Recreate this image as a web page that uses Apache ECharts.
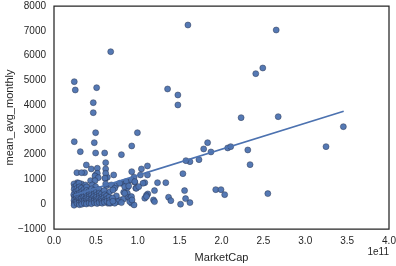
<!DOCTYPE html>
<html>
<head>
<meta charset="utf-8">
<script src="https://cdn.jsdelivr.net/npm/echarts@6/dist/echarts.min.js"></script>
<style>html,body{margin:0;padding:0;background:#fff;}#c{width:396px;height:266px;}</style>
</head>
<body>
<div id="c"></div>
<script>
// MarketCap in units of 1e11
const marketCap = [
0.677,0.242,0.254,0.509,0.469,0.469,0.242,0.497,0.996,0.481,0.314,0.497,0.605,0.928,0.805,0.617,0.386,0.445,0.273,0.365,0.617,0.497,0.713,0.928,1.044,1.116,1.032,
1.599,2.653,1.356,1.479,1.479,2.409,2.493,2.234,2.677,3.455,3.248,2.314,2.341,2.553,1.931,1.994,2.038,1.787,1.834,1.874,2.074,2.110,1.731,1.623,1.575,1.623,
1.539,1.084,1.236,1.335,1.120,1.104,1.200,1.188,1.200,1.368,1.395,1.511,1.559,1.571,
0.844,0.884,0.964,1.063,0.956,0.737,0.805,0.625,0.876,0.976,0.876,0.752,0.793,0.832,0.673,0.925,0.956,0.884,0.904,0.832,
1.116,0.617,0.637,0.865,0.925,0.964,0.784,0.685,0.725,0.844,0.892,0.984,1.012,0.625,0.665,0.704,0.844,0.745,0.925,0.904,0.932,0.764,0.725,0.805,1.084,1.104,0.625,0.644,
0.329,0.517,0.517,0.617,0.489,0.529,0.608,0.437,0.489,0.278,0.329,0.377,0.457,0.497,0.617,
0.238,0.246,0.241,0.249,0.236,0.244,0.251,0.239,0.247,0.243,0.240,
0.268,0.274,0.271,0.277,0.266,0.273,0.279,0.270,0.275,
0.298,0.303,0.296,0.305,0.300,0.294,0.302,0.307,0.299,0.304,
0.328,0.333,0.331,0.336,0.326,0.334,0.329,0.332,
0.358,0.364,0.361,0.356,0.366,0.360,0.363,
0.389,0.392,0.386,0.395,0.388,0.391,0.394,0.387,
0.418,0.423,0.421,0.416,0.425,0.419,
0.448,0.452,0.446,0.455,0.449,0.451,0.447,
0.478,0.483,0.476,0.485,0.480,0.482,
0.508,0.513,0.506,0.511,0.509,0.515,
0.538,0.543,0.541,0.536,0.545,0.540,
0.568,0.573,0.566,0.571,0.575,
0.598,0.603,0.596,0.605,0.601,
0.628,0.633,0.631,
0.658,0.663,0.661,
0.698,0.703
];
const meanAvgMonthly = [
6156,4946,4611,4704,4099,3695,2525,2888,2888,2485,2122,2069,2069,2352,2001,1678,1585,1424,1275,1275,1424,1182,1182,1315,1424,1545,1182,
7233,7031,4651,4409,4006,5269,5498,3494,3534,3130,2324,2190,1598,428,589,589,387,2231,2485,2110,2271,2324,1799,1718,1759,65,
1234,871,871,871,416,363,549,173,105,282,145,0,549,226,
887,927,887,847,1089,750,847,750,670,645,444,105,173,214,40,40,-28,282,242,484,
1182,1049,1089,912,980,912,847,779,645,710,738,645,710,444,508,577,444,335,307,105,173,105,40,65,242,307,105,40,
1275,1452,1250,1250,1142,1073,1049,952,952,871,819,779,779,710,819,
820,700,600,480,380,300,220,150,80,20,-40,
760,640,520,420,330,250,170,100,30,
850,700,580,450,350,260,190,120,50,-20,
650,520,400,300,220,140,60,0,
600,480,380,280,200,120,40,
700,560,420,320,230,150,70,10,
520,400,300,210,130,50,
620,470,350,260,180,100,20,
560,420,310,220,140,60,
500,380,280,190,110,30,
600,450,330,230,150,70,
420,300,200,120,40,
550,380,260,160,80,
330,220,120,
280,150,60,
250,120
];
// regression line endpoints
const fitX = [0.24, 3.459];
const fitY = [369, 3752];
const xTicks = [0, 0.5, 1.0, 1.5, 2.0, 2.5, 3.0, 3.5, 4.0];

const points = marketCap.map((x, i) => [x, meanAvgMonthly[i]]);
const fitLine = fitX.map((x, i) => [x, fitY[i]]);

const chart = echarts.init(document.getElementById('c'), null, {renderer: 'canvas'});
const txt = '#262626';
const font = 'Liberation Sans, Arial, sans-serif';
chart.setOption({
  animation: false,
  backgroundColor: '#fff',
  grid: {left: 54, top: 6, width: 335, height: 223, show: true, borderColor: txt, borderWidth: 1.25,
         backgroundColor: 'transparent', containLabel: false, outerBoundsMode: 'none'},
  xAxis: {
    type: 'value', min: xTicks[0], max: xTicks[xTicks.length - 1], interval: 0.5,
    axisLine: {show: false}, axisTick: {show: false}, splitLine: {show: false},
    axisLabel: {color: txt, fontSize: 10, fontFamily: font, margin: 7, formatter: v => v.toFixed(1)},
    name: 'MarketCap', nameLocation: 'middle', nameGap: 23, nameMoveOverlap: false,
    nameTextStyle: {color: txt, fontSize: 11, fontFamily: font}
  },
  yAxis: {
    type: 'value', min: -1000, max: 8000, interval: 1000,
    axisLine: {show: false}, axisTick: {show: false}, splitLine: {show: false},
    axisLabel: {color: txt, fontSize: 10, fontFamily: font, margin: 8, formatter: v => String(v).replace('-', '\u2212')},
    name: 'mean_avg_monthly', nameLocation: 'middle', nameGap: 39, nameMoveOverlap: false,
    nameTextStyle: {color: txt, fontSize: 11, fontFamily: font}
  },
  graphic: [{
    type: 'text', right: 7, top: 247,
    style: {text: '1e11', fill: txt, font: '10px ' + font}
  }],
  series: [{
    type: 'scatter', data: points, symbolSize: 6, z: 2,
    itemStyle: {color: '#4C72B0', opacity: 0.95, borderColor: '#27324d', borderWidth: 0.5}
  }, {
    type: 'line', data: fitLine, symbol: 'none', z: 3,
    lineStyle: {color: '#4C72B0', width: 1.7}
  }]
});
</script>
</body>
</html>
